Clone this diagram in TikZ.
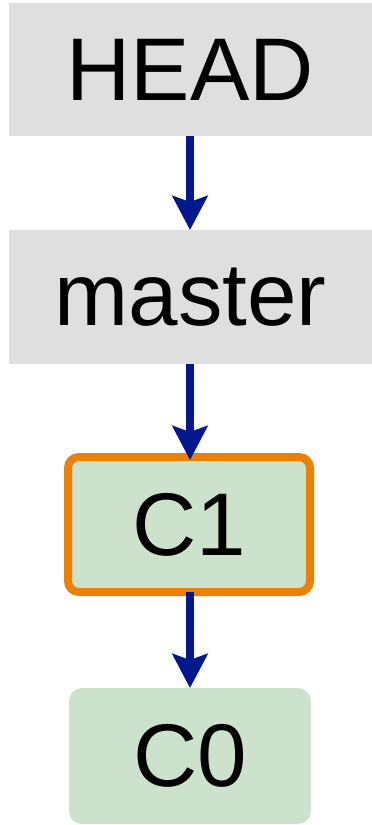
\documentclass[tikz,border=0pt]{standalone}
\usepackage{fontspec}
\setmainfont{Liberation Sans}
\usetikzlibrary{arrows.meta}
\definecolor{refgray}{RGB}{223,223,223}
\definecolor{refgreen}{RGB}{205,226,205}
\definecolor{reforange}{RGB}{236,128,4}
\definecolor{refblue}{RGB}{2,24,143}
\tikzset{
  lbl/.style={fill=refgray, draw=none, inner sep=0pt, outer sep=0pt,
    font=\fontsize{89}{89}\selectfont},
  commit/.style={fill=refgreen, draw=none, rounded corners=13pt, inner sep=0pt, outer sep=0pt,
    minimum width=242pt, minimum height=136pt, font=\fontsize{89}{89}\selectfont},
  current/.style={draw=reforange, line width=8pt, rounded corners=11pt},
  ptr/.style={draw=refblue, line width=8.5pt,
    -{Stealth[length=34pt, width=35pt, inset=6pt]}}
}
\begin{document}
\begin{tikzpicture}[x=1pt, y=-1pt]
\useasboundingbox (0,0) rectangle (372,825);
\node[lbl, minimum width=363.5pt, minimum height=133pt] (head) at (190.25,69.5) {HEAD};
\node[lbl, minimum width=363pt, minimum height=134pt] (master) at (190.5,297) {master};
\node[commit, current, minimum height=135pt] (c1) at (189,524.5) {C1};
\node[commit] (c0) at (190,756) {C0};
\draw[ptr] (head.south -| 190,0) -- (master.north -| 190,0);
\draw[ptr, shorten >=-3pt] (master.south -| 190,0) -- (c1.north -| 190,0);
\draw[ptr] (c1.south -| 190,0) -- (c0.north -| 190,0);
\end{tikzpicture}
\end{document}
